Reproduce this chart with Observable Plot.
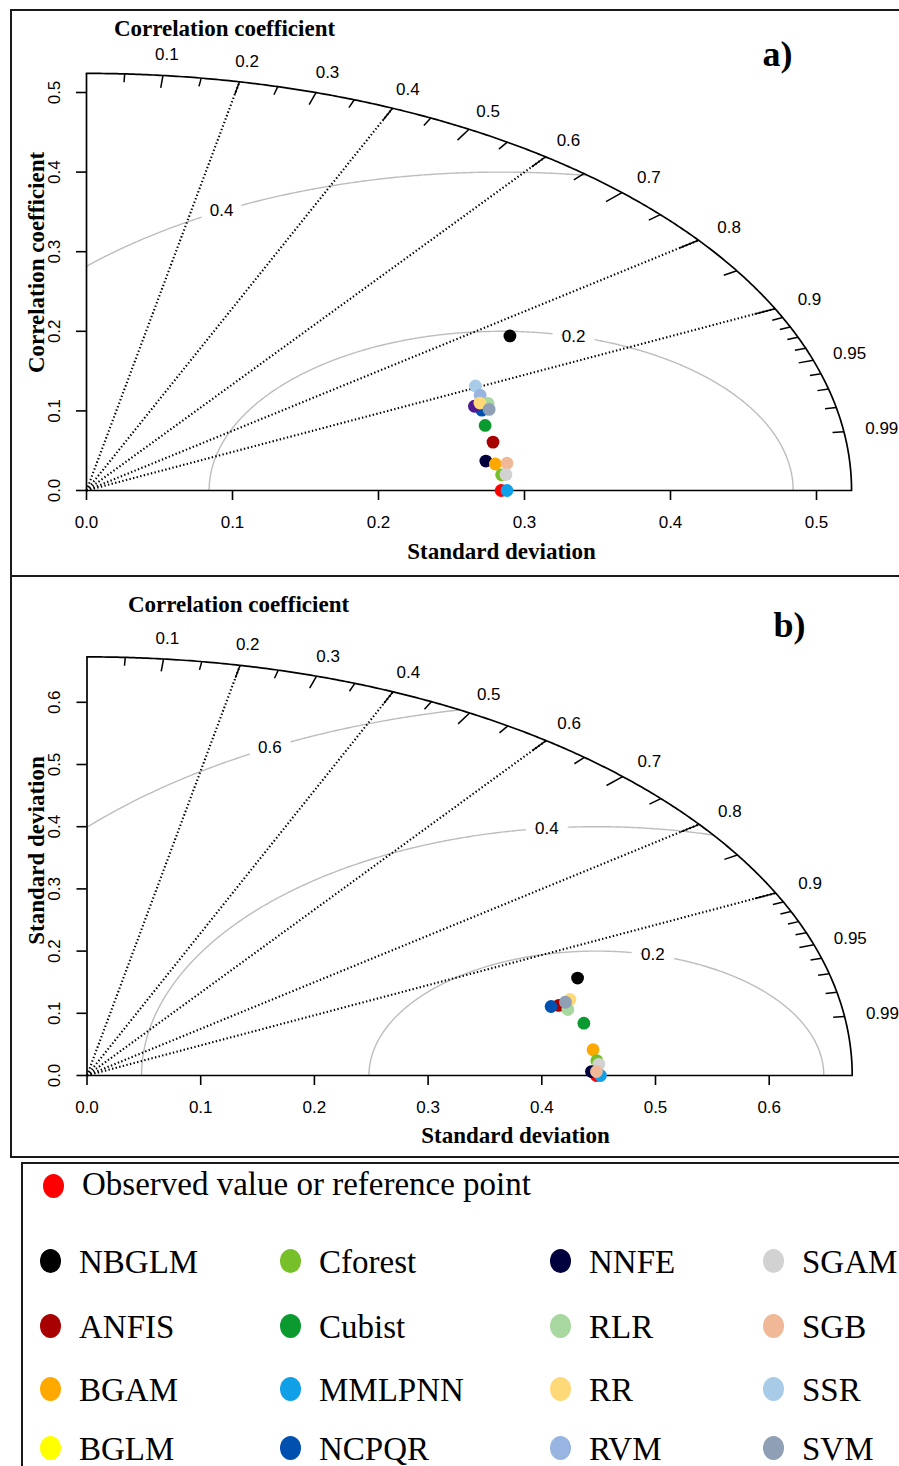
<!DOCTYPE html>
<html>
<head>
<meta charset="utf-8">
<script src="https://cdn.jsdelivr.net/npm/d3@7"></script>
<script src="https://cdn.jsdelivr.net/npm/@observablehq/plot@0.6"></script>
<style>
  body { margin: 0; background: #fff; }
  #page { position: relative; width: 899px; height: 1466px; overflow: hidden; background: #fff; }
  .panel { position: absolute; left: 0; width: 899px; }
  .box { position: absolute; border: 2px solid #1a1a1a; box-sizing: border-box; pointer-events: none; }
  .ldot { position: absolute; width: 21px; height: 24px; border-radius: 50%; }
  .ltext { position: absolute; font-family: "Liberation Serif", "Times New Roman", serif; font-size: 33px; line-height: 33px; white-space: nowrap; color: #000; }
  svg [aria-label*="axis"] line, svg [aria-label*="axis"] path { stroke-width: 1.6px; }
</style>
</head>
<body>
<div id="page"></div>
<script>
// ---------------- data ----------------
const modelNames  = ["NBGLM","ANFIS","BGAM","BGLM","Cforest","Cubist","MMLPNN","NCPQR","NNFE","RLR","RR","RVM","SGAM","SGB","SSR","SVM"];
const modelColors = ["#000000","#a80000","#ffa800","#ffff00","#78c02a","#0a9a30","#10a0e8","#0050b0","#00003c","#a8d8a0","#ffd878","#98b4e0","#d2d2d2","#f0b896","#a8cce8","#8e9fb6"];
const refName = "Observed";
const refLabel = "Observed value or reference point";
const refColor = "#ff0000";
const extraName = "Unlisted";
const extraColor = "#4f1a8e";

// panel a (drawing order)
const seriesA = ["BGLM","SSR","RVM","RLR","NCPQR","Unlisted","RR","SVM","NBGLM","Cubist","ANFIS","NNFE","BGAM","SGB","Cforest","SGAM","Observed","MMLPNN"];
const sdA  = [0.291,0.297,0.295,0.296,0.289,0.286,0.291,0.294,0.349,0.285,0.285,0.276,0.282,0.290,0.285,0.288,0.284,0.288];
const corA = [0.926,0.897,0.914,0.929,0.937,0.929,0.926,0.938,0.831,0.958,0.977,0.991,0.993,0.993,0.9976,0.9976,1,1];
const refSdA = 0.284;
const sdMaxA = 0.524;
const gammaA = [0.2, 0.4];
const sdTicksA = [0, 0.1, 0.2, 0.3, 0.4, 0.5];

// panel b (drawing order)
const seriesB = ["BGLM","SSR","RVM","NBGLM","ANFIS","NCPQR","RR","RLR","SVM","Cubist","BGAM","Cforest","SGAM","Observed","NNFE","MMLPNN","SGB"];
const sdB  = [0.437,0.437,0.437,0.459,0.430,0.423,0.442,0.436,0.437,0.445,0.447,0.449,0.4505,0.448,0.4437,0.4516,0.4481];
const corB = [0.963,0.963,0.963,0.940,0.965,0.965,0.961,0.970,0.963,0.982,0.9957,0.9986,0.9992,1,0.9999,1,0.9999];
const refSdB = 0.448;
const sdMaxB = 0.673;
const gammaB = [0.2, 0.4, 0.6];
const sdTicksB = [0, 0.1, 0.2, 0.3, 0.4, 0.5, 0.6];

// correlation grid
const corLines = [0.2, 0.4, 0.6, 0.8, 0.9];
const corLabels = [0.1, 0.2, 0.3, 0.4, 0.5, 0.6, 0.7, 0.8, 0.9, 0.95, 0.99];
const corBigTicks = [0.1, 0.2, 0.3, 0.4, 0.5, 0.6, 0.7, 0.8, 0.9];
const corMedTicks = [0.05, 0.15, 0.25, 0.35, 0.45, 0.55, 0.65, 0.75, 0.85, 0.95];
const corSmallTicks = [0.91, 0.92, 0.93, 0.94, 0.96, 0.97, 0.98, 0.99];

// ---------------- helpers ----------------
const colorOf = Object.fromEntries(modelNames.map((n, i) => [n, modelColors[i]]));
colorOf[refName] = refColor;
colorOf[extraName] = extraColor;

const serif = "Liberation Serif, Times New Roman, serif";

function taylor(cfg, lay) {
  const {series, sd, cor, refSd, sdMax, gammas, sdTicks, yTitle, tag} = cfg;
  const mL = lay.x0, mR = 899 - (lay.x0 + sdMax * lay.kx);
  const mB = lay.height - lay.y0, mT = lay.y0 - sdMax * lay.ky;
  const at = (p) => ({frameAnchor: "top-left", textAnchor: "middle", lineAnchor: "middle", dx: p[0] - mL, dy: p[1] - mT});

  const pts = series.map((n, i) => ({name: n, x: sd[i] * cor[i], y: sd[i] * Math.sqrt(Math.max(0, 1 - cor[i] * cor[i]))}));
  const arc = d3.range(0, 90.001, 0.25).map(a => ({x: sdMax * Math.cos(a * Math.PI / 180), y: sdMax * Math.sin(a * Math.PI / 180)}));
  const ticks = [
    ...corBigTicks.map(c => ({c, f: 0.97})),
    ...corMedTicks.map(c => ({c, f: 0.98})),
    ...corSmallTicks.map(c => ({c, f: 0.985}))
  ];
  const sn = c => Math.sqrt(1 - c * c);
  const gpts = [];
  gammas.forEach(g => {
    d3.range(0, Math.PI, 0.004).forEach(t => {
      const x = refSd + g * Math.cos(t), y = g * Math.sin(t);
      if (x >= 0 && x * x + y * y <= sdMax * sdMax) gpts.push({g, x, y});
    });
  });
  const n = gammas.length;
  const glab = gammas.map((g, i) => {
    const idx = Math.floor(n > 1 ? 45 + (70 - 45) * i / (n - 1) : 45);
    const t = (idx - 1) * 0.03;
    return {g, x: refSd + g * Math.cos(t), y: g * Math.sin(t)};
  });

  return Plot.plot({
    width: 899, height: lay.height,
    marginLeft: mL, marginRight: mR, marginTop: mT, marginBottom: mB,
    x: {domain: [0, sdMax], ticks: sdTicks, tickSize: 10, tickFormat: () => "", label: null},
    y: {domain: [0, sdMax], ticks: sdTicks, tickSize: 10, tickFormat: () => "", label: null},
    color: {type: "identity"},
    style: {fontFamily: "Liberation Sans, Arial, sans-serif", fontSize: "17px", background: "transparent", overflow: "visible", color: "black"},
    marks: [
      // gamma (centred RMS) contours
      Plot.line(gpts, {x: "x", y: "y", z: "g", stroke: "#bdbdbd", strokeWidth: 1.4}),
      Plot.text(glab, {x: "x", y: "y", text: d => String(d.g), fill: "black", stroke: "white", strokeWidth: 20, fontSize: 17}),
      // correlation rays
      Plot.link(corLines, {x1: 0, y1: 0, x2: c => sdMax * c, y2: c => sdMax * sn(c), stroke: "black", strokeWidth: 2.1, strokeDasharray: "1.4,2.3"}),
      // outer arc and ticks
      Plot.line(arc, {x: "x", y: "y", stroke: "black", strokeWidth: 1.7}),
      Plot.link(ticks, {x1: d => sdMax * d.c, y1: d => sdMax * sn(d.c), x2: d => d.f * sdMax * d.c, y2: d => d.f * sdMax * sn(d.c), stroke: "black", strokeWidth: 1.5}),
      Plot.text(corLabels, {x: c => 1.05 * sdMax * c, y: c => 1.05 * sdMax * sn(c), text: c => String(c), fontSize: 17}),
      // axes lines
      Plot.ruleY([0], {x1: 0, x2: sdMax, stroke: "black", strokeWidth: 1.7}),
      Plot.ruleX([0], {y1: 0, y2: sdMax, stroke: "black", strokeWidth: 1.7}),
      Plot.text(sdTicks, {x: d => d, y: 0, dy: 32, text: d => d.toFixed(1), fontSize: 17}),
      Plot.text(sdTicks, {x: 0, y: d => d, dx: -32, rotate: -90, text: d => d.toFixed(1), fontSize: 17}),
      // titles
      Plot.text(["Correlation coefficient"], {...at(lay.title), text: d => d, fontFamily: serif, fontWeight: "bold", fontSize: 23}),
      Plot.text([tag], {...at(lay.tag), text: d => d, fontFamily: serif, fontWeight: "bold", fontSize: 36}),
      Plot.text([yTitle], {...at(lay.yTitle), rotate: -90, text: d => d, fontFamily: serif, fontWeight: "bold", fontSize: 23}),
      Plot.text(["Standard deviation"], {...at(lay.xTitle), text: d => d, fontFamily: serif, fontWeight: "bold", fontSize: 23}),
      // points
      Plot.dot(pts, {x: "x", y: "y", r: 6.4, fill: d => colorOf[d.name], stroke: "none"})
    ]
  });
}

// ---------------- layout ----------------
const page = document.getElementById("page");
function addPanel(svg, top) {
  const d = document.createElement("div");
  d.className = "panel";
  d.style.top = top + "px";
  d.appendChild(svg);
  page.appendChild(d);
}

const svgA = taylor(
  {series: seriesA, sd: sdA, cor: corA, refSd: refSdA, sdMax: sdMaxA, gammas: gammaA, sdTicks: sdTicksA, yTitle: "Correlation coefficient", tag: "a)"},
  {height: 577, x0: 86, kx: 1460, y0: 490, ky: 796, title: [224, 28], tag: [777, 54], yTitle: [36, 262], xTitle: [501, 551]}
);
addPanel(svgA, 0);

const svgB = taylor(
  {series: seriesB, sd: sdB, cor: corB, refSd: refSdB, sdMax: sdMaxB, gammas: gammaB, sdTicks: sdTicksB, yTitle: "Standard deviation", tag: "b)"},
  {height: 580, x0: 86.5, kx: 1137, y0: 498, ky: 622, title: [238, 27], tag: [789, 48], yTitle: [36, 273], xTitle: [515, 558]}
);
addPanel(svgB, 577);

// frames
function box(l, t, w, h) {
  const b = document.createElement("div");
  b.className = "box";
  Object.assign(b.style, {left: l + "px", top: t + "px", width: w + "px", height: h + "px"});
  page.appendChild(b);
}
box(10, 9, 1000, 568);
box(10, 575, 1000, 583);
box(21, 1162, 1000, 400);

// legend
function legendItem(name, color, cx, cy, base) {
  const dot = document.createElement("div");
  dot.className = "ldot";
  dot.style.left = (cx - 10.5) + "px";
  dot.style.top = (cy - 12) + "px";
  dot.style.background = color;
  page.appendChild(dot);
  const t = document.createElement("div");
  t.className = "ltext";
  t.textContent = name;
  t.style.left = (cx + 29) + "px";
  t.style.top = (cy + base - 27.6) + "px";
  page.appendChild(t);
}
legendItem(refLabel, refColor, 53, 1186, 10);
const colX = [50, 290, 560, 773];
const rowY = [1261, 1326, 1389, 1448];
modelNames.forEach((n, i) => {
  legendItem(n, modelColors[i], colX[Math.floor(i / 4)], rowY[i % 4], 12.7);
});
</script>
</body>
</html>
